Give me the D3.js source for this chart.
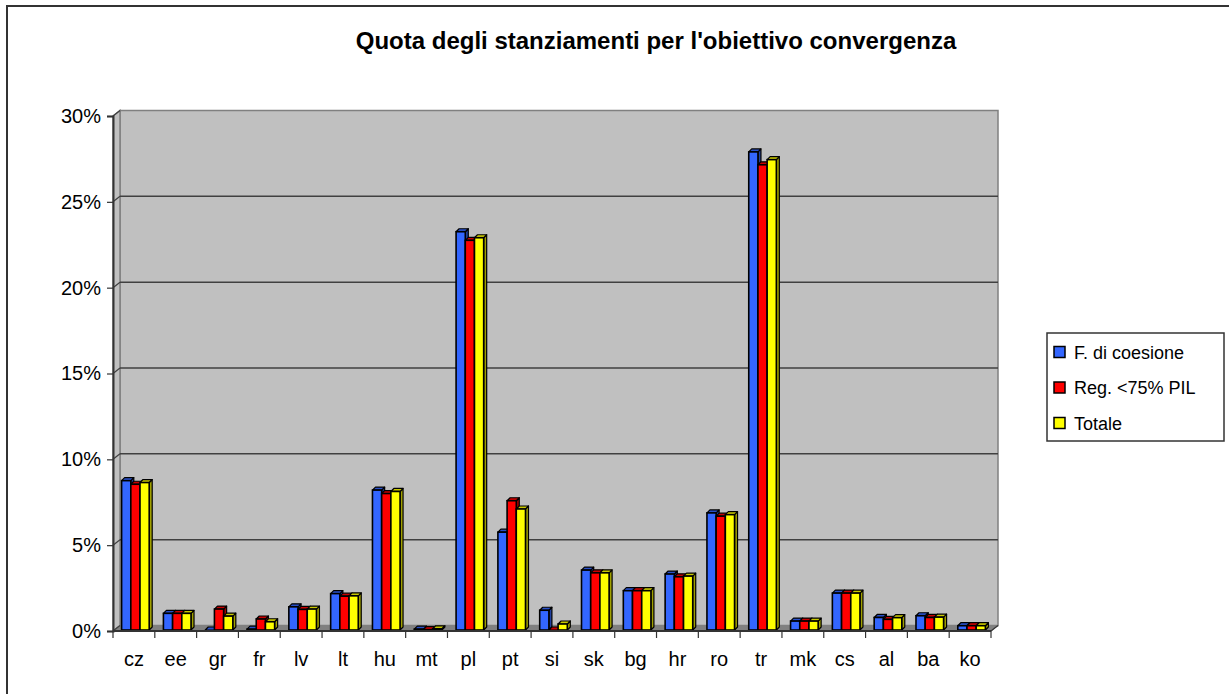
<!DOCTYPE html>
<html>
<head>
<meta charset="utf-8">
<script src="https://cdn.jsdelivr.net/npm/d3@7"></script>
<style>
  body { margin: 0; background: #fff; }
  svg { display: block; font-family: "Liberation Sans", Arial, sans-serif; }
</style>
</head>
<body>
<div id="chart"></div>
<script>
// Categories and series values (shares, as fractions)
const categories = ["cz", "ee", "gr", "fr", "lv", "lt", "hu", "mt", "pl", "pt",
  "si", "sk", "bg", "hr", "ro", "tr", "mk", "cs", "al", "ba", "ko"];
const coesione = [0.087, 0.0097, 0.0, 0.0005, 0.0135, 0.0212, 0.0815, 0.0005, 0.232, 0.057,
  0.0115, 0.0349, 0.0229, 0.0326, 0.0682, 0.2785, 0.0052, 0.0215, 0.0073, 0.0083, 0.0025];
const regioni = [0.0849, 0.0097, 0.0122, 0.0064, 0.012, 0.0197, 0.0795, 0.0002, 0.227, 0.0753,
  0.0, 0.0333, 0.0229, 0.031, 0.0663, 0.271, 0.0052, 0.0215, 0.0062, 0.0073, 0.0025];
const totale = [0.0859, 0.0097, 0.0081, 0.0048, 0.0122, 0.0199, 0.0807, 0.0007, 0.2285, 0.0705,
  0.0035, 0.0333, 0.0229, 0.0314, 0.0672, 0.274, 0.0052, 0.0215, 0.0072, 0.0075, 0.0025];

const seriesNames = ["F. di coesione", "Reg. <75% PIL", "Totale"];
const seriesColors = ["#3366FF", "#FF0000", "#FFFF00"];
const seriesValues = [coesione, regioni, totale];
const yTicks = [0, 0.05, 0.10, 0.15, 0.20, 0.25, 0.30];

const width = 1229, height = 694;
const depth = { x: 7, y: -5.5 };     // offset front plane -> back wall
const barShift = { x: 1.5, y: -1 };  // bar front face sits slightly behind the axis plane
const barDepth = { x: 3, y: -3 };    // thickness of each 3D bar

const svg = d3.select("#chart").append("svg")
    .attr("width", width)
    .attr("height", height);

// Outer chart frame (right and bottom edges fall outside the picture)
svg.append("rect")
    .attr("x", 7).attr("y", 6)
    .attr("width", 1260).attr("height", 720)
    .attr("fill", "#fff")
    .attr("stroke", "#333").attr("stroke-width", 2);

// Title
svg.append("text")
    .attr("x", 656).attr("y", 49)
    .attr("text-anchor", "middle")
    .style("font-size", "24px").style("font-weight", "bold")
    .text("Quota degli stanziamenti per l'obiettivo convergenza");

// Scales
const x = d3.scaleBand()
    .domain(categories)
    .range([113, 991])
    .paddingInner(0.34)
    .paddingOuter(0.17);

const xs = d3.scaleBand()
    .domain(d3.range(seriesNames.length))
    .range([0, x.bandwidth()]);

const y = d3.scaleLinear()
    .domain([0, 0.30])
    .range([631, 116]);

const [x0, x1] = x.range();
const y0 = y(0), yTop = y(0.30);

// Back wall
svg.append("rect")
    .attr("x", x0 + depth.x).attr("y", yTop + depth.y)
    .attr("width", x1 - x0).attr("height", y0 - yTop)
    .attr("fill", "#C0C0C0")
    .attr("stroke", "#808080").attr("stroke-width", 1.5);

// Left side wall
svg.append("path")
    .attr("d", `M${x0},${yTop}L${x0 + depth.x},${yTop + depth.y}L${x0 + depth.x},${y0 + depth.y}L${x0},${y0}Z`)
    .attr("fill", "#C0C0C0")
    .attr("stroke", "#808080").attr("stroke-width", 1.5);

// Floor
svg.append("path")
    .attr("d", `M${x0},${y0}L${x0 + depth.x},${y0 + depth.y}L${x1 + depth.x},${y0 + depth.y}L${x1},${y0}Z`)
    .attr("fill", "#808080")
    .attr("stroke", "#808080").attr("stroke-width", 1);

// Gridlines on back and side wall
const grid = svg.append("g");
yTicks.filter(t => t > 0 && t < 0.30).forEach(t => {
    grid.append("line")
        .attr("x1", x0 + depth.x).attr("x2", x1 + depth.x)
        .attr("y1", y(t) + depth.y).attr("y2", y(t) + depth.y)
        .attr("stroke", "#404040").attr("stroke-width", 1.5);
});
yTicks.forEach(t => {
    grid.append("line")
        .attr("x1", x0).attr("x2", x0 + depth.x)
        .attr("y1", y(t)).attr("y2", y(t) + depth.y)
        .attr("stroke", "#404040").attr("stroke-width", 1.2);
});

// Bars, drawn left to right so each bar hides its neighbour's side face
const bars = svg.append("g");
categories.forEach((c, i) => {
    seriesValues.forEach((vals, s) => {
        const color = d3.color(seriesColors[s]);
        const bx = x(c) + xs(s) + barShift.x;
        const bw = xs.bandwidth();
        const by = y(vals[i]) + barShift.y;
        const bb = y0 + barShift.y;
        const dx = barDepth.x, dy = barDepth.y;
        // side face
        bars.append("path")
            .attr("d", `M${bx + bw},${by}L${bx + bw + dx},${by + dy}L${bx + bw + dx},${bb + dy}L${bx + bw},${bb}Z`)
            .attr("fill", color.darker(1.3))
            .attr("stroke", "#000").attr("stroke-width", 1.2).attr("stroke-linejoin", "round");
        // top face
        bars.append("path")
            .attr("d", `M${bx},${by}L${bx + dx},${by + dy}L${bx + bw + dx},${by + dy}L${bx + bw},${by}Z`)
            .attr("fill", color.darker(0.7))
            .attr("stroke", "#000").attr("stroke-width", 1.2).attr("stroke-linejoin", "round");
        // front face
        bars.append("rect")
            .attr("x", bx).attr("y", by)
            .attr("width", bw).attr("height", bb - by)
            .attr("fill", seriesColors[s])
            .attr("stroke", "#000").attr("stroke-width", 1.6);
    });
});

// Y axis
const yAxis = d3.axisLeft(y)
    .tickValues(yTicks)
    .tickFormat(d3.format(".0%"))
    .tickSize(6)
    .tickPadding(6);

const gy = svg.append("g")
    .attr("transform", `translate(${x0},0)`)
    .call(yAxis);
gy.select(".domain").attr("stroke", "#333").attr("stroke-width", 2);
gy.selectAll(".tick line").attr("stroke", "#333").attr("stroke-width", 1.2);
gy.selectAll(".tick text")
    .style("font-size", "20px").attr("fill", "#000")
    .attr("font-family", "Liberation Sans, Arial, sans-serif");

// X axis (ticks at category boundaries)
const boundaries = d3.range(categories.length + 1).map(i => x0 + i * x.step());
const gx = svg.append("g");
gx.append("line")
    .attr("x1", x0).attr("x2", x1)
    .attr("y1", y0).attr("y2", y0)
    .attr("stroke", "#333").attr("stroke-width", 2);
gx.append("line")
    .attr("x1", x1).attr("x2", x1 + depth.x)
    .attr("y1", y0).attr("y2", y0 + depth.y)
    .attr("stroke", "#333").attr("stroke-width", 1.2);
gx.selectAll("line.tick")
    .data(boundaries)
    .join("line")
    .attr("class", "tick")
    .attr("x1", d => d).attr("x2", d => d)
    .attr("y1", y0).attr("y2", y0 + 7)
    .attr("stroke", "#333").attr("stroke-width", 1.2);
gx.selectAll("text")
    .data(categories)
    .join("text")
    .attr("x", (d, i) => x0 + (i + 0.5) * x.step())
    .attr("y", 666)
    .attr("text-anchor", "middle")
    .style("font-size", "20px")
    .text(d => d);

// Legend
const legend = svg.append("g");
legend.append("rect")
    .attr("x", 1047).attr("y", 333)
    .attr("width", 177).attr("height", 108)
    .attr("fill", "#fff")
    .attr("stroke", "#333").attr("stroke-width", 1.5);
const items = legend.selectAll("g.item")
    .data(seriesNames)
    .join("g")
    .attr("class", "item")
    .attr("transform", (d, i) => `translate(1054,${352 + i * 35.5})`);
items.append("rect")
    .attr("x", 0).attr("y", -5.5)
    .attr("width", 11).attr("height", 11)
    .attr("fill", (d, i) => seriesColors[i])
    .attr("stroke", "#000").attr("stroke-width", 1.5);
items.append("text")
    .attr("x", 20).attr("y", 6.5)
    .style("font-size", "18px")
    .text(d => d);
</script>
</body>
</html>
